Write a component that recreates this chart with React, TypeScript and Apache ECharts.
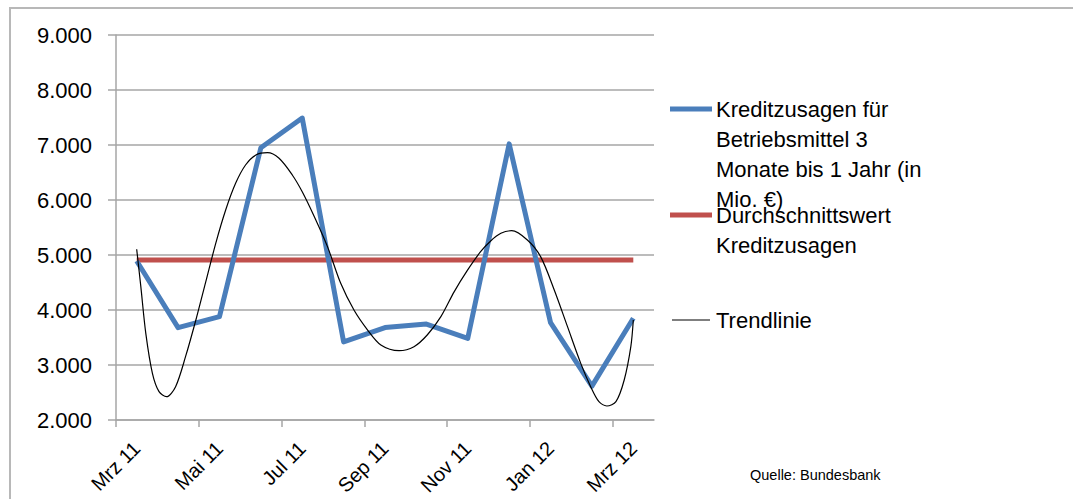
import React, { useEffect, useRef } from "react";
import * as echarts from "echarts";

const months = ["Mrz 11", "Apr 11", "Mai 11", "Jun 11", "Jul 11", "Aug 11", "Sep 11", "Okt 11", "Nov 11", "Dez 11", "Jan 12", "Feb 12", "Mrz 12"];
const kreditzusagen = [4890, 3680, 3880, 6950, 7490, 3420, 3680, 3745, 3485, 7020, 3770, 2615, 3850];
const durchschnitt = [4910, 4910, 4910, 4910, 4910, 4910, 4910, 4910, 4910, 4910, 4910, 4910, 4910];
// trend line: [month position, value]
const trendX = [0, 0.1, 0.22, 0.38, 0.54, 0.72, 0.94, 1.18, 1.43, 1.67, 1.91, 2.15, 2.39, 2.63, 2.88, 3.16, 3.44, 3.76, 4.0, 4.29, 4.61, 4.93, 5.25, 5.58, 5.9, 6.34, 6.7, 7.02, 7.35, 7.67, 7.99, 8.31, 8.56, 8.8, 9.06, 9.44, 9.76, 10.09, 10.41, 10.73, 10.97, 11.17, 11.36, 11.58, 11.78, 11.94, 12.0];
const trendY = [5104, 4424, 3576, 2849, 2515, 2424, 2606, 3151, 3818, 4515, 5212, 5818, 6303, 6636, 6818, 6860, 6758, 6455, 6150, 5700, 5152, 4485, 4000, 3636, 3364, 3260, 3333, 3545, 3879, 4330, 4720, 5060, 5260, 5394, 5442, 5273, 4970, 4364, 3697, 3030, 2606, 2333, 2255, 2333, 2727, 3333, 3818];
// tick positions on the month scale (boundaries between every second month)
const xTickPositions = [-0.5, 1.5, 3.5, 5.5, 7.5, 9.5, 11.5];
const yTicks = { min: 2000, max: 9000, step: 1000 };
const seriesNames = ["Kreditzusagen für Betriebsmittel 3 Monate bis 1 Jahr (in Mio. €)", "Durchschnittswert Kreditzusagen", "Trendlinie"];
const legendLines1 = ["Kreditzusagen für", "Betriebsmittel 3", "Monate bis 1 Jahr (in", "Mio. €)"];
const legendLines2 = ["Durchschnittswert", "Kreditzusagen"];
const legendLines3 = ["Trendlinie"];
const source = "Quelle: Bundesbank";

const FONT = "Liberation Sans";
const BLUE = "#4a7ebb";
const RED = "#c0504d";
const GRID = "#a6a6a6";

function fmt(v: number): string {
  const s = String(Math.round(v));
  return s.replace(/\B(?=(\d{3})+(?!\d))/g, ".");
}

export default function App() {
  const ref = useRef<HTMLDivElement>(null);
  useEffect(() => {
    if (!ref.current) return;
    const chart = echarts.init(ref.current, null, { renderer: "svg" });
    const textEls: any[] = [];
    const addLines = (lines: string[], y0: number) => {
      lines.forEach((t, i) => {
        textEls.push({
          type: "text",
          x: 716,
          y: y0 + i * 30,
          style: { text: t, font: `22px "${FONT}"`, fill: "#000", textVerticalAlign: "middle", textAlign: "left" },
        });
      });
    };
    addLines(legendLines1, 109);
    addLines(legendLines2, 215);
    addLines(legendLines3, 320);

    chart.setOption({
      animation: false,
      backgroundColor: "#fff",
      textStyle: { fontFamily: FONT },
      grid: { left: 116, top: 35, right: 419, bottom: 79, containLabel: false, outerBoundsMode: "none" },
      xAxis: [
        {
          type: "category",
          data: months,
          boundaryGap: true,
          axisLine: { show: true, onZero: false, lineStyle: { color: GRID, width: 1.5 } },
          axisTick: { show: false },
          axisLabel: { interval: 1, rotate: 45, margin: 25, fontSize: 20, color: "#000", fontFamily: FONT },
          splitLine: { show: false },
        },
        {
          type: "value",
          min: -0.5,
          max: 12.5,
          position: "bottom",
          axisLine: { show: false, onZero: false },
          axisTick: { show: true, customValues: xTickPositions, length: 7, lineStyle: { color: GRID, width: 1.5 } },
          axisLabel: { show: false },
          splitLine: { show: false },
        },
      ],
      yAxis: {
        type: "value",
        min: yTicks.min,
        max: yTicks.max,
        interval: yTicks.step,
        axisLine: { show: true, onZero: false, lineStyle: { color: GRID, width: 1.5 } },
        axisTick: { show: true, length: 8, lineStyle: { color: GRID, width: 1.5 } },
        axisLabel: { margin: 24, fontSize: 22, color: "#000", fontFamily: FONT, formatter: (v: number) => fmt(v) },
        splitLine: { show: true, lineStyle: { color: GRID, width: 1.5 } },
      },
      series: [
        {
          name: seriesNames[0],
          type: "line",
          data: kreditzusagen,
          symbol: "none",
          lineStyle: { color: BLUE, width: 5, join: "round" },
          z: 3,
        },
        {
          name: seriesNames[1],
          type: "line",
          data: durchschnitt,
          symbol: "none",
          lineStyle: { color: RED, width: 5 },
          z: 2,
        },
        {
          name: seriesNames[2],
          type: "line",
          xAxisIndex: 1,
          data: trendX.map((x, i) => [x, trendY[i]]),
          symbol: "none",
          smooth: 0.3,
          lineStyle: { color: "#000", width: 1.2 },
          z: 4,
        },
      ],
      graphic: [
        {
          type: "rect",
          shape: { x: 10, y: 8, width: 1200, height: 600 },
          style: { fill: "none", stroke: "#b8b8b8", lineWidth: 2 },
          silent: true,
        },
        { type: "line", shape: { x1: 670, y1: 109, x2: 712, y2: 109 }, style: { stroke: BLUE, lineWidth: 5 } },
        { type: "line", shape: { x1: 670, y1: 215, x2: 712, y2: 215 }, style: { stroke: RED, lineWidth: 5 } },
        { type: "line", shape: { x1: 672, y1: 320, x2: 710, y2: 320 }, style: { stroke: "#000", lineWidth: 1.2 } },
        ...textEls,
        {
          type: "text",
          x: 750,
          y: 475,
          style: { text: source, font: `14.5px "${FONT}"`, fill: "#000", textVerticalAlign: "middle", textAlign: "left" },
        },
      ],
    });
    return () => chart.dispose();
  }, []);
  return <div ref={ref} style={{ position: "fixed", left: 0, top: 0, width: 1073, height: 499 }} />;
}
